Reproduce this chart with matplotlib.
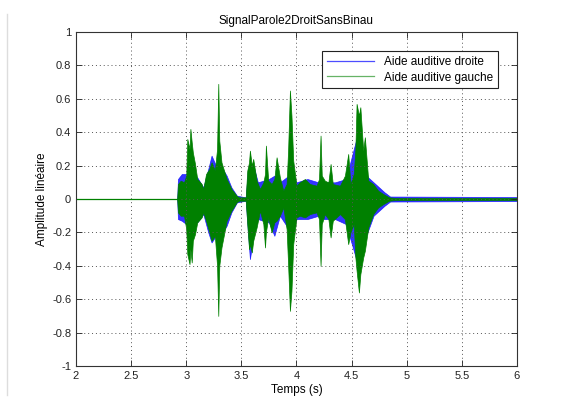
import matplotlib
matplotlib.use("Agg")
import matplotlib.pyplot as plt
from matplotlib.lines import Line2D

plt.rcParams['font.family'] = ['Liberation Sans', 'DejaVu Sans']

# Envelope of "Aide auditive gauche" (green)
t_g = [2.000, 2.918, 2.925, 2.950, 2.980, 3.000, 3.010, 3.030, 3.038, 3.050, 3.060, 3.080, 3.100,
       3.140, 3.155, 3.180, 3.210, 3.230, 3.260, 3.280, 3.291, 3.300, 3.320, 3.367, 3.410, 3.457,
       3.480, 3.540, 3.554, 3.570, 3.578, 3.595, 3.608, 3.639, 3.669, 3.700, 3.715, 3.723, 3.744,
       3.775, 3.800, 3.820, 3.850, 3.881, 3.911, 3.925, 3.941, 3.955, 3.971, 4.001, 4.030, 4.077,
       4.122, 4.183, 4.205, 4.219, 4.230, 4.258, 4.290, 4.310, 4.330, 4.395, 4.440, 4.470, 4.490,
       4.520, 4.535, 4.546, 4.567, 4.580, 4.606, 4.621, 4.652, 4.697, 4.742, 4.788, 4.842, 4.900,
       6.000]
up_g = [0.0, 0.0, 0.09, 0.11, 0.10, 0.14, 0.36, 0.30, 0.42, 0.34, 0.28, 0.21, 0.12,
        0.09, 0.06, 0.15, 0.18, 0.22, 0.17, 0.30, 0.69, 0.35, 0.22, 0.12, 0.06, 0.02,
        0.01, 0.01, 0.17, 0.22, 0.29, 0.20, 0.24, 0.11, 0.06, 0.10, 0.15, 0.32, 0.11,
        0.09, 0.12, 0.25, 0.13, 0.05, 0.09, 0.30, 0.65, 0.50, 0.23, 0.08, 0.10, 0.12,
        0.09, 0.08, 0.12, 0.38, 0.14, 0.11, 0.10, 0.21, 0.09, 0.08, 0.14, 0.27, 0.09,
        0.15, 0.30, 0.57, 0.50, 0.55, 0.29, 0.37, 0.11, 0.09, 0.05, 0.03, 0.01, 0.006,
        0.006]
lo_g = [0.0, 0.0, -0.08, -0.10, -0.10, -0.18, -0.33, -0.39, -0.30, -0.38, -0.25, -0.21, -0.14,
        -0.11, -0.08, -0.13, -0.20, -0.25, -0.22, -0.40, -0.70, -0.40, -0.29, -0.13, -0.07, -0.02,
        -0.01, -0.01, -0.15, -0.30, -0.27, -0.32, -0.25, -0.17, -0.07, -0.15, -0.29, -0.20, -0.11,
        -0.20, -0.14, -0.13, -0.10, -0.05, -0.18, -0.40, -0.67, -0.55, -0.27, -0.11, -0.10, -0.11,
        -0.09, -0.08, -0.12, -0.40, -0.15, -0.09, -0.12, -0.23, -0.13, -0.09, -0.12, -0.27, -0.20,
        -0.15, -0.35, -0.43, -0.56, -0.45, -0.35, -0.31, -0.17, -0.09, -0.05, -0.03, -0.01, -0.006,
        -0.006]

# Envelope of "Aide auditive droite" (blue)
t_b = [2.000, 2.918, 2.925, 2.960, 3.000, 3.100, 3.155, 3.200, 3.230, 3.270, 3.330, 3.367, 3.410,
       3.460, 3.540, 3.560, 3.578, 3.610, 3.650, 3.750, 3.800, 3.850, 3.950, 4.000, 4.100, 4.200,
       4.250, 4.350, 4.450, 4.560, 4.600, 4.650, 4.700, 4.800, 4.850, 6.000]
up_b = [0.0, 0.0, 0.12, 0.15, 0.15, 0.13, 0.07, 0.18, 0.26, 0.20, 0.18, 0.14, 0.07,
        0.02, 0.01, 0.18, 0.20, 0.20, 0.10, 0.12, 0.14, 0.10, 0.15, 0.10, 0.12, 0.10,
        0.10, 0.10, 0.12, 0.40, 0.22, 0.13, 0.10, 0.04, 0.015, 0.012]
lo_b = [0.0, 0.0, -0.12, -0.13, -0.15, -0.14, -0.09, -0.20, -0.26, -0.22, -0.20, -0.16, -0.08,
        -0.02, -0.01, -0.20, -0.36, -0.22, -0.12, -0.14, -0.22, -0.10, -0.20, -0.12, -0.12, -0.10,
        -0.12, -0.12, -0.15, -0.40, -0.28, -0.19, -0.10, -0.04, -0.015, -0.012]

x_ticks = [2, 2.5, 3, 3.5, 4, 4.5, 5, 5.5, 6]
y_ticks = [-1, -0.8, -0.6, -0.4, -0.2, 0, 0.2, 0.4, 0.6, 0.8, 1]

blue = '#1010ff'
green = '#008000'

fig = plt.figure(figsize=(5.63, 4.01), dpi=100)
ax = fig.add_axes([0.135, 0.0873, 0.783, 0.8327])

ax.fill_between(t_b, lo_b, up_b, color=blue, lw=0.5, alpha=0.85)
ax.fill_between(t_g, lo_g, up_g, color=green, lw=0.5)
ax.plot([2, 2.93], [0, 0], color=green, lw=0.9)

ax.set_xlim(2, 6)
ax.set_ylim(-1, 1)
ax.set_xticks(x_ticks)
ax.set_xticklabels(['2', '2.5', '3', '3.5', '4', '4.5', '5', '5.5', '6'])
ax.set_yticks(y_ticks)
ax.set_yticklabels(['-1', '-0.8', '-0.6', '-0.4', '-0.2', '0', '0.2', '0.4', '0.6', '0.8', '1'])
ax.tick_params(direction='in', top=True, right=True, labelsize=8, length=4, width=0.6, colors='#222222')
ax.grid(True, linestyle=(0, (1, 3)), color='#555555', linewidth=0.7)
for s in ax.spines.values():
    s.set_linewidth(0.8)
    s.set_color('#333333')

ax.set_title('SignalParole2DroitSansBinau', fontsize=8.5, pad=6)
ax.set_xlabel('Temps (s)', fontsize=8.5, labelpad=2)
ax.set_ylabel('Amplitude linéaire', fontsize=8.5, labelpad=3)

handles = [Line2D([], [], color='#4d4dff', lw=0.9), Line2D([], [], color='#66b366', lw=0.9)]
leg = ax.legend(handles, ['Aide auditive droite', 'Aide auditive gauche'], loc='upper right',
                bbox_to_anchor=(0.97, 0.96), fontsize=8.5, fancybox=False, framealpha=1,
                edgecolor='#222222', handlelength=4, borderpad=0.4, labelspacing=0.3)
leg.get_frame().set_linewidth(0.8)

fig.add_artist(Line2D([0.013, 0.013], [0.015, 0.965], color='#dddddd', lw=1))

fig.savefig('out.png', dpi=100)
